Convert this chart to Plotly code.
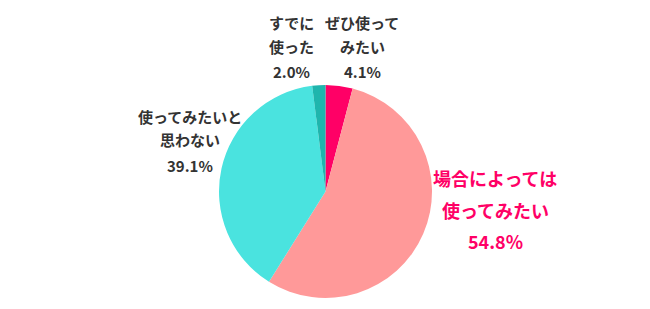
import plotly.graph_objects as go

# Data
categories = ["ぜひ使ってみたい", "場合によっては使ってみたい", "使ってみたいと思わない", "すでに使った"]
values = [4.1, 54.8, 39.1, 2.0]
label_lines = [["ぜひ使って", "みたい"], ["場合によっては", "使ってみたい"], ["使ってみたいと", "思わない"], ["すでに", "使った"]]
colors = ["#FF0066", "#FF9999", "#4AE3DF", "#1FB5AD"]

W, H = 650, 309
# label placement (pixel centers) and styles
label_pos = [(362, [22, 47, 71]), (495, [178, 210, 241]), (190, [116, 140, 165]), (291, [22, 47, 71])]
label_size = [15, 18, 15, 15]
label_color = ["#333333", "#FF0066", "#333333", "#333333"]
font_family = "Noto Sans CJK JP"

fig = go.Figure(go.Pie(
    labels=categories, values=values, sort=False, direction="clockwise", rotation=0,
    marker=dict(colors=colors, line=dict(width=0)), textinfo="none", hoverinfo="label+percent",
    domain=dict(x=[219 / W, 432 / W], y=[(H - 298) / H, (H - 85) / H]), showlegend=False,
))

annotations = []
for i, cat in enumerate(categories):
    cx, ys = label_pos[i]
    lines = label_lines[i] + [f"{values[i]:.1f}%"]
    for line, py in zip(lines, ys):
        annotations.append(dict(
            text=f"<b>{line}</b>", x=cx / W, y=1 - py / H, xref="paper", yref="paper",
            xanchor="center", yanchor="middle", showarrow=False,
            font=dict(size=label_size[i], color=label_color[i], family=font_family),
        ))

fig.update_layout(
    width=W, height=H, margin=dict(l=0, r=0, t=0, b=0),
    paper_bgcolor="white", plot_bgcolor="white", annotations=annotations,
)
fig.write_html("out.html")
